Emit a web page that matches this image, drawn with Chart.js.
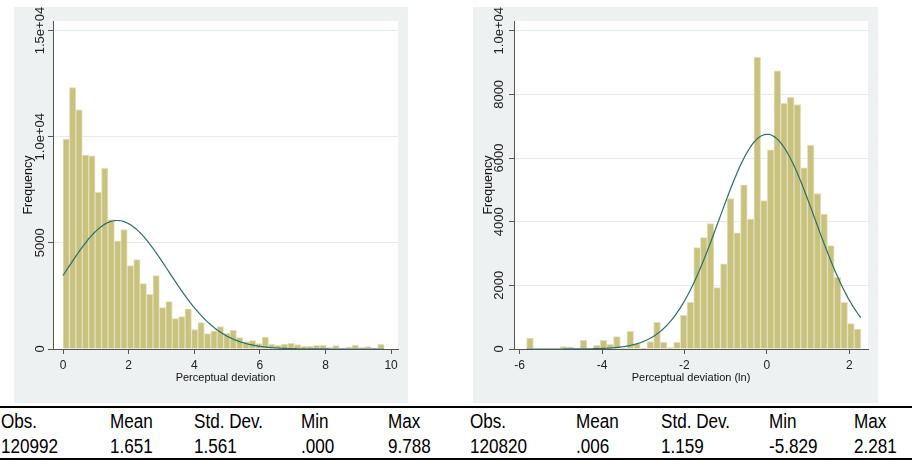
<!DOCTYPE html>
<html lang="en">
<head>
  <meta charset="UTF-8" />
  <title>Perceptual deviation histograms</title>
  <script src="https://cdn.jsdelivr.net/npm/chart.js"></script>
  <style>
    body {
      margin: 0;
      width: 912px;
      height: 460px;
      position: relative;
      overflow: hidden;
      background: #fff;
      font-family: "Liberation Sans", Arial, sans-serif;
    }

    .panel {
      position: absolute;
      top: 7px;
      height: 396px;
      background: #eef1f1;
    }

    #leftPanel { left: 14px; width: 394px; }
    #rightPanel { left: 473px; width: 405px; }

    .rule {
      position: absolute;
      left: 0;
      width: 912px;
      height: 2px;
      background: #000;
    }

    /* the table font is condensed in the original */
    .cell {
      position: absolute;
      font-size: 20px;
      line-height: 20px;
      color: #000;
      white-space: nowrap;
      transform: scaleX(0.855);
      transform-origin: left center;
    }
  </style>
</head>
<body>

  <div class="panel" id="leftPanel"><canvas id="leftChart" width="394" height="396"></canvas></div>
  <div class="panel" id="rightPanel"><canvas id="rightChart" width="405" height="396"></canvas></div>

  <div class="rule" style="top:406px"></div>
  <div id="table"></div>
  <div class="rule" style="top:458px"></div>

  <script>
    // frequencies per bin (50 bins each)
    const leftFreq = [
      9890, 12310, 11260, 9135, 9104, 7374, 8506, 6101, 5094, 5629,
      3931, 4214, 3082, 2579, 3459, 1950, 2233, 1431, 1525, 1887,
      912, 1242, 730, 849, 1060, 739, 880, 535, 346, 393,
      252, 566, 220, 173, 236, 267, 204, 126, 126, 173,
      173, 63, 157, 47, 79, 189, 63, 110, 31, 220
    ];
    const rightFreq = [
      346, 0, 0, 0, 0, 73, 63, 0, 272, 31,
      115, 272, 147, 388, 20, 556, 170, 20, 230, 838,
      210, 42, 210, 1059, 1468, 3187, 3501, 3941, 1929, 2673,
      4727, 3648, 5157, 4078, 9161, 4665, 6258, 8742, 7715, 7904,
      7683, 5692, 6405, 4885, 4235, 3249, 2254, 1468, 797, 629
    ];

    // Obs., Mean, Std. Dev., Min, Max
    const statNames = ['Obs.', 'Mean', 'Std. Dev.', 'Min', 'Max'];
    const leftStats = [120992, 1.651, 1.561, 0.000, 9.788];
    const rightStats = [120820, 0.006, 1.159, -5.829, 2.281];

    const leftXTicks = [0, 2, 4, 6, 8, 10];
    const leftXLabels = ['0', '2', '4', '6', '8', '10'];
    const leftYTicks = [0, 5000, 10000, 15000];
    const leftYLabels = ['0', '5000', '1.0e+04', '1.5e+04'];

    const rightXTicks = [-6, -4, -2, 0, 2];
    const rightXLabels = ['-6', '-4', '-2', '0', '2'];
    const rightYTicks = [0, 2000, 4000, 6000, 8000, 10000];
    const rightYLabels = ['0', '2000', '4000', '6000', '8000', '1.0e+04'];

    const SANS = '"Liberation Sans", Arial, sans-serif';

    const plotBackground = {
      id: 'plotBackground',
      beforeDraw(chart) {
        const a = chart.chartArea;
        chart.ctx.save();
        chart.ctx.fillStyle = '#ffffff';
        chart.ctx.fillRect(a.left, a.top, a.right - a.left, a.bottom - a.top);
        chart.ctx.restore();
      }
    };

    function histogram(canvasId, freq, stats, opts) {
      const [obs, mean, sd, min, max] = stats;
      const binWidth = (max - min) / freq.length;
      const bars = freq.map((f, i) => ({ x: min + (i + 0.5) * binWidth, y: f }));

      // normal density scaled to counts, as drawn by "histogram, normal"
      const curve = [];
      for (let i = 0; i <= 240; i++) {
        const x = min + (max - min) * i / 240;
        const z = (x - mean) / sd;
        curve.push({ x, y: obs * binWidth * Math.exp(-0.5 * z * z) / (sd * Math.sqrt(2 * Math.PI)) });
      }

      return new Chart(document.getElementById(canvasId), {
        type: 'bar',
        data: {
          datasets: [
            {
              type: 'line',
              data: curve,
              borderColor: '#28706c',
              borderWidth: 1.2,
              pointRadius: 0,
              fill: false,
              order: 0
            },
            {
              type: 'bar',
              data: bars,
              backgroundColor: '#c8c27e',
              borderColor: '#e3dfba',
              borderWidth: 1,
              barPercentage: 1,
              categoryPercentage: 1,
              order: 1
            }
          ]
        },
        options: {
          responsive: false,
          animation: false,
          layout: { padding: { top: 14, right: opts.rightPad, left: 0, bottom: 0 } },
          plugins: { legend: { display: false }, tooltip: { enabled: false } },
          scales: {
            x: {
              type: 'linear',
              min: opts.xMin,
              max: opts.xMax,
              offset: false,
              afterBuildTicks: s => { s.ticks = opts.xTicks.map(v => ({ value: v })); },
              afterFit: s => { s.height = 54; },
              ticks: {
                callback: (v, i) => opts.xLabels[i],
                autoSkip: false,
                maxRotation: 0,
                padding: 4,
                color: '#222',
                font: { family: SANS, size: 12 }
              },
              grid: { offset: false, drawOnChartArea: false, tickLength: 5, tickColor: '#555' },
              border: { color: '#555', width: 1 },
              title: {
                display: true,
                text: opts.xTitle,
                color: '#111',
                font: { family: SANS, size: 11 },
                padding: { top: 0, bottom: 18 }
              }
            },
            y: {
              min: 0,
              max: opts.yMax,
              afterBuildTicks: s => { s.ticks = opts.yTicks.map(v => ({ value: v })); },
              afterFit: s => { s.width = opts.axisWidth; },
              ticks: {
                callback: (v, i) => opts.yLabels[i],
                minRotation: 90,
                maxRotation: 90,
                crossAlign: 'center',
                padding: opts.yLabelPad,
                color: '#222',
                font: { family: SANS, size: 13 }
              },
              grid: { color: '#e3ecec', tickLength: 5, tickColor: '#555' },
              border: { color: '#555', width: 1 },
              title: {
                display: true,
                text: 'Frequency',
                color: '#111',
                font: { family: SANS, size: 12.5 },
                padding: { top: opts.titlePad, bottom: 0 }
              }
            }
          }
        },
        plugins: [plotBackground]
      });
    }

    histogram('leftChart', leftFreq, leftStats, {
      xMin: -0.305, xMax: 10.21, yMax: 15450,
      xTicks: leftXTicks, xLabels: leftXLabels,
      yTicks: leftYTicks, yLabels: leftYLabels,
      xTitle: 'Perceptual deviation',
      axisWidth: 39, rightPad: 10, yLabelPad: -16, titlePad: 7
    });

    histogram('rightChart', rightFreq, rightStats, {
      xMin: -6.136, xMax: 2.454, yMax: 10305,
      xTicks: rightXTicks, xLabels: rightXLabels,
      yTicks: rightYTicks, yLabels: rightYLabels,
      xTitle: 'Perceptual deviation (ln)',
      axisWidth: 41, rightPad: 10, yLabelPad: -14, titlePad: 8
    });

    // summary table under the graphs
    function fmt(v, i) {
      if (i === 0) return String(v);
      return v.toFixed(3).replace(/^(-?)0\./, '$1.');
    }

    const leftCols = [1, 110, 194, 301, 388];
    const rightCols = [470, 576, 661, 769, 854];
    const table = document.getElementById('table');

    function addCell(text, x, y) {
      const d = document.createElement('div');
      d.className = 'cell';
      d.style.left = x + 'px';
      d.style.top = y + 'px';
      d.textContent = text;
      table.appendChild(d);
    }

    statNames.forEach((name, i) => {
      addCell(name, leftCols[i], 411);
      addCell(name, rightCols[i], 411);
      addCell(fmt(leftStats[i], i), leftCols[i], 436);
      addCell(fmt(rightStats[i], i), rightCols[i], 436);
    });
  </script>
</body>
</html>
